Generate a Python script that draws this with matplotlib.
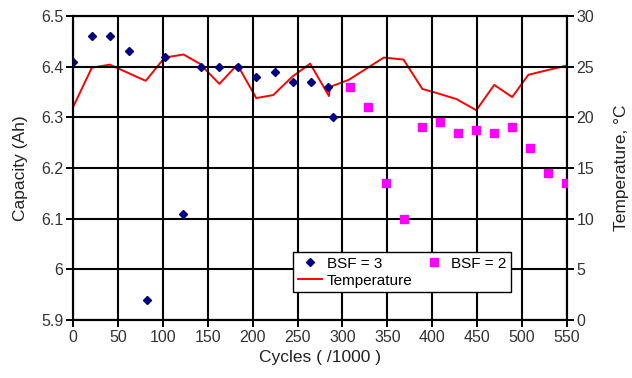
import matplotlib
matplotlib.use("Agg")
import matplotlib.pyplot as plt

plt.rcParams['font.family'] = ['Liberation Sans', 'DejaVu Sans']

# BSF = 3 capacity data
bsf3_cycles = [0, 21, 41, 62, 82, 102, 123, 143, 163, 184, 204, 225, 245, 265, 284, 289]
bsf3_cap = [6.41, 6.46, 6.46, 6.43, 5.94, 6.42, 6.11, 6.40, 6.40, 6.40, 6.38, 6.39, 6.37, 6.37, 6.36, 6.30]

# BSF = 2 capacity data
bsf2_cycles = [308, 328, 348, 368, 389, 409, 429, 449, 469, 489, 509, 529, 549]
bsf2_cap = [6.36, 6.32, 6.17, 6.10, 6.28, 6.29, 6.27, 6.275, 6.27, 6.28, 6.24, 6.19, 6.17]

# Temperature
temp_cycles = [0, 21, 41, 81, 102, 123, 141, 163, 183, 204, 223, 244, 264, 285, 286, 307, 346, 368, 389, 405, 427, 449, 469, 489, 507, 549]
temp_vals = [21.0, 24.9, 25.2, 23.6, 25.9, 26.2, 25.3, 23.3, 25.2, 21.9, 22.2, 24.0, 25.3, 22.1, 23.0, 23.7, 25.9, 25.7, 22.8, 22.4, 21.8, 20.7, 23.2, 22.0, 24.2, 25.1]

xticks = list(range(0, 551, 50))
yticks_left = [5.9, 6.0, 6.1, 6.2, 6.3, 6.4, 6.5]
ytick_left_labels = ['5.9', '6', '6.1', '6.2', '6.3', '6.4', '6.5']
yticks_right = [0, 5, 10, 15, 20, 25, 30]

fig = plt.figure(figsize=(6.32, 3.78), dpi=100)
ax = fig.add_axes([73/632, 1-320/378, (567-73)/632, (320-16)/378])
ax2 = ax.twinx()

h1, = ax.plot(bsf3_cycles, bsf3_cap, linestyle='none', marker='D', color='#000080',
              markersize=4.5, label='BSF = 3', zorder=5)
h3, = ax.plot(bsf2_cycles, bsf2_cap, linestyle='none', marker='s', color='#FF00FF',
              markersize=6, label='BSF = 2', zorder=5)
h2, = ax2.plot(temp_cycles, temp_vals, color='#FF0000', linewidth=1.4, label='Temperature')

ax.set_xlim(0, 550)
ax.set_ylim(5.9, 6.5)
ax2.set_ylim(0, 30)
ax.set_xticks(xticks)
ax.set_yticks(yticks_left)
ax.set_yticklabels(ytick_left_labels)
ax2.set_yticks(yticks_right)

ax.grid(True, color='black', linewidth=1.5)
ax.set_axisbelow(True)
for a in (ax, ax2):
    for s in a.spines.values():
        s.set_color('black')
        s.set_linewidth(1.5)
ax.tick_params(axis='both', direction='out', length=5, width=1.4, labelsize=11.5, colors='black', labelcolor='#333333', pad=2)
ax2.tick_params(axis='y', direction='out', length=5, width=1.4, labelsize=11.5, colors='black', labelcolor='#333333', pad=2)

ax.set_xlabel('Cycles ( /1000 )', fontsize=12.5, color='#222222', labelpad=4)
ax.set_ylabel('Capacity (Ah)', fontsize=12.5, color='#222222', labelpad=9)
ax2.set_ylabel('Temperature, °C', fontsize=12.5, color='#222222', labelpad=14)

ax.set_zorder(ax2.get_zorder() + 1)
ax.patch.set_visible(False)

leg = ax.legend([h1, h2, h3], ['BSF = 3', 'Temperature', 'BSF = 2'], ncol=2,
                loc='upper left', bbox_to_anchor=((293-73)/494, (320-252)/304),
                fancybox=False, framealpha=1, edgecolor='black',
                fontsize=11, handlelength=1.6, handletextpad=0.3, borderpad=0.3,
                labelspacing=0.2, columnspacing=0.6, borderaxespad=0)
leg.get_frame().set_linewidth(1.0)

fig.savefig('out.png', dpi=100)
